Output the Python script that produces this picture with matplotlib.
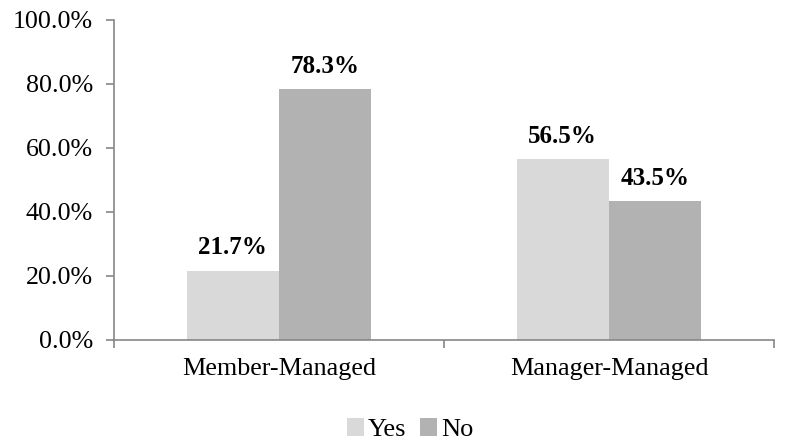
import matplotlib
matplotlib.use("Agg")
import matplotlib.pyplot as plt
import numpy as np

categories = ["Member-Managed", "Manager-Managed"]
series_names = ["Yes", "No"]
yes_vals = [21.7, 56.5]
no_vals = [78.3, 43.5]
yticks = [0, 20, 40, 60, 80, 100]

plt.rcParams['font.family'] = ['Liberation Serif', 'DejaVu Serif']

fig = plt.figure(figsize=(8.04, 4.43), dpi=100)
ax = fig.add_axes([114/804, 1-340/443, 660/804, 320/443])

x = np.arange(1, len(categories)+1)
w = 0.28
c_yes = "#D9D9D9"
c_no = "#B2B2B2"
b1 = ax.bar(x - w/2, yes_vals, w, color=c_yes, label=series_names[0])
b2 = ax.bar(x + w/2, no_vals, w, color=c_no, label=series_names[1])

for bars, vals in [(b1, yes_vals), (b2, no_vals)]:
    for b, v in zip(bars, vals):
        ax.text(b.get_x() + b.get_width()/2, v + 3.5, f"{v:.1f}%", ha='center', va='bottom',
                fontsize=18, fontweight='bold')

ax.set_xlim(0.5, len(categories) + 0.5)
ax.set_ylim(0, 100)
ax.set_yticks(yticks)
ax.set_yticklabels([f"{t:.1f}%" for t in yticks], fontsize=18.7)
ax.set_xticks(np.arange(0.5, len(categories) + 1, 1.0))
ax.set_xticklabels([])
ax.set_xticks(x, minor=True)
ax.set_xticklabels(categories, minor=True, fontsize=18.8)
ax.tick_params(axis='x', which='minor', length=0, pad=13)
ax.tick_params(axis='x', which='major', length=6, color="#868686", width=1.2)
ax.tick_params(axis='y', length=6, color="#868686", width=1.2, pad=9)

for s in ['top', 'right']:
    ax.spines[s].set_visible(False)
for s in ['left', 'bottom']:
    ax.spines[s].set_color("#868686")
    ax.spines[s].set_linewidth(1.2)

fig.legend(handles=[b1, b2], labels=series_names, loc='lower center', bbox_to_anchor=(0.51, -0.05),
           ncol=2, frameon=False, fontsize=19, handlelength=0.65, handleheight=0.65,
           handletextpad=0.15, columnspacing=0.5)

fig.savefig("out.png", dpi=100)
